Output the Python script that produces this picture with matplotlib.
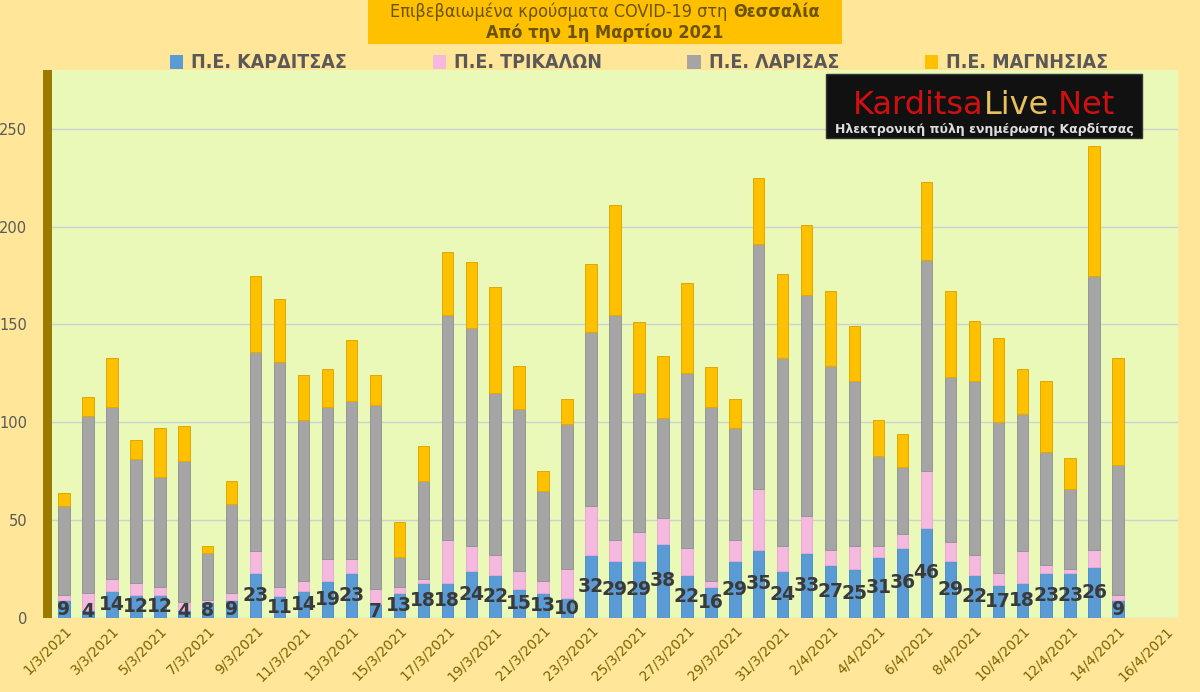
import numpy as np
import pandas as pd
import matplotlib
matplotlib.use('Agg')
import matplotlib.pyplot as plt
from matplotlib.patches import Patch, Rectangle

# Daily confirmed cases per regional unit, 1/3/2021 - 14/4/2021
karditsa = [9, 4, 14, 12, 12, 4, 8, 9, 23, 11, 14, 19, 23, 7, 13, 18, 18, 24, 22, 15, 13, 10, 32,
            29, 29, 38, 22, 16, 29, 35, 24, 33, 27, 25, 31, 36, 46, 29, 22, 17, 18, 23, 23, 26, 9]
trikala = [3, 9, 6, 6, 4, 4, 1, 4, 11, 5, 5, 11, 7, 8, 3, 2, 22, 13, 10, 9, 6, 15, 25,
           11, 15, 13, 14, 3, 11, 31, 13, 19, 8, 12, 6, 7, 29, 10, 10, 6, 16, 4, 2, 9, 3]
larisa = [45, 90, 88, 63, 56, 72, 24, 45, 102, 115, 82, 78, 81, 94, 15, 50, 115, 111, 83, 83, 46, 74, 89,
          115, 71, 51, 89, 89, 57, 125, 96, 113, 94, 84, 46, 34, 108, 84, 89, 77, 70, 58, 41, 140, 66]
magnisia = [7, 10, 25, 10, 25, 18, 4, 12, 39, 32, 23, 19, 31, 15, 18, 18, 32, 34, 54, 22, 10, 13, 35,
            56, 36, 32, 46, 20, 15, 34, 43, 36, 38, 28, 18, 17, 40, 44, 31, 43, 23, 36, 16, 66, 55]

# category axis runs to 16/4 (last two days empty)
dates = pd.date_range('2021-03-01', '2021-04-16')
date_labels = [f"{d.day}/{d.month}/{d.year}" for d in dates]

series_names = ['Π.Ε. ΚΑΡΔΙΤΣΑΣ', 'Π.Ε. ΤΡΙΚΑΛΩΝ', 'Π.Ε. ΛΑΡΙΣΑΣ', 'Π.Ε. ΜΑΓΝΗΣΙΑΣ']
colors = ['#5B9BD5', '#F5B8DF', '#A5A5A5', '#FFC000']
edges = ['#5290C8', '#E6AAD2', '#969696', '#E0A800']

W, H = 1200, 692

fig = plt.figure(figsize=(12, 6.92), dpi=100)
fig.patch.set_facecolor('#FFE699')
ax = fig.add_axes([52 / W, 74 / H, 1126 / W, 548 / H])
ax.set_facecolor('#EBF9B8')

x = np.arange(len(karditsa))
bottom = np.zeros(len(karditsa))
for vals, name, c, ec in zip([karditsa, trikala, larisa, magnisia], series_names, colors, edges):
    ax.bar(x, vals, width=0.48, bottom=bottom, color=c, edgecolor=ec, linewidth=0.7, label=name, zorder=3)
    bottom += np.array(vals)

# value labels for Karditsa, centred in the blue segment
for xi, v in zip(x, karditsa):
    ax.text(xi, max(v / 2, 3.5), str(v), ha='center', va='center', fontsize=13.5,
            fontweight='bold', color='#3A3A3A', zorder=5)

ax.set_xlim(-0.5, len(date_labels) - 0.5)
ax.set_ylim(0, 280)
ax.set_yticks(range(0, 251, 50))
ax.set_xticks(np.arange(0, len(date_labels), 2))
ax.set_xticklabels(date_labels[::2], rotation=45, ha='right', rotation_mode='anchor',
                   fontsize=10, color='#7F6000')
ax.tick_params(axis='y', labelsize=10.5, labelcolor='#595959', length=0, pad=18)
ax.tick_params(axis='x', length=0, pad=4)
ax.grid(axis='y', color='#C9D3D6', linewidth=1.0, zorder=0)
for s in ax.spines.values():
    s.set_visible(False)

# dark wall on the left of the plot area
fig.patches.append(Rectangle((43 / W, 74 / H), 9 / W, 548 / H,
                             transform=fig.transFigure, facecolor='#9C7A00', edgecolor='none'))

# title box
fig.patches.append(Rectangle((368 / W, 1 - 44 / H), 474 / W, 44 / H,
                             transform=fig.transFigure, facecolor='#FFC000', edgecolor='none'))
tkw = dict(fontsize=13, color='#6B5300', family='DejaVu Sans', stretch='condensed', va='center')
t1a = fig.text(0, 1 - 12 / H, 'Επιβεβαιωμένα κρούσματα COVID-19 στη ', ha='left', **tkw)
t1b = fig.text(0, 1 - 12 / H, 'Θεσσαλία', ha='left', fontweight='bold', **tkw)
fig.text(605 / W, 1 - 33 / H, 'Από την 1η Μαρτίου 2021', ha='center', fontweight='bold', **tkw)

# legend
handles = [Patch(facecolor=c, edgecolor='none') for c in colors]
leg = fig.legend(handles, series_names, loc='center', bbox_to_anchor=(639 / W, 1 - 63 / H), ncol=4,
                 frameon=False, handlelength=0.7, handleheight=0.7, handletextpad=0.4,
                 columnspacing=4.4,
                 prop={'family': 'DejaVu Sans', 'stretch': 'condensed', 'weight': 'bold', 'size': 14})
for t in leg.get_texts():
    t.set_color('#595959')

# site logo
fig.patches.append(Rectangle((826 / W, 1 - 138 / H), 316 / W, 64 / H,
                             transform=fig.transFigure, facecolor='#111111', edgecolor='#333333'))
lkw = dict(fontsize=23, va='center', ha='left', family='DejaVu Sans')
l1 = fig.text(0, 1 - 105 / H, 'Karditsa', color='#D01010', **lkw)
l2 = fig.text(0, 1 - 105 / H, 'Live', color='#E8C060', **lkw)
l3 = fig.text(0, 1 - 105 / H, '.Net', color='#D01010', **lkw)
fig.text(984 / W, 1 - 129 / H, 'Ηλεκτρονική πύλη ενημέρωσης Καρδίτσας', ha='center', va='center',
         fontsize=9, color='#DDDDDD', fontweight='bold')

# place the multi-part texts next to each other, centred
fig.canvas.draw()
r = fig.canvas.get_renderer()

def place_row(parts, cx):
    widths = [p.get_window_extent(r).width for p in parts]
    xpos = cx - sum(widths) / 2
    for p, w in zip(parts, widths):
        p.set_x(xpos / W)
        xpos += w

place_row([t1a, t1b], 605)
place_row([l1, l2, l3], 984)

fig.savefig('out.png', dpi=100, facecolor=fig.get_facecolor())
